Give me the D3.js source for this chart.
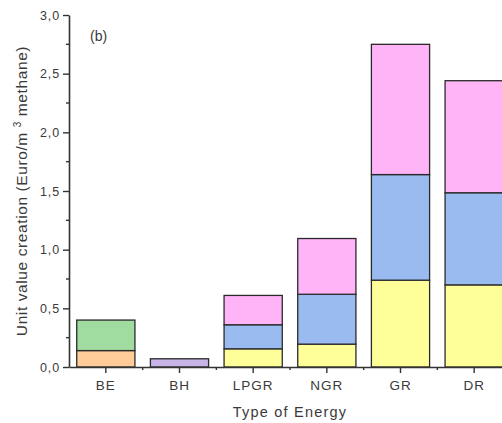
<!DOCTYPE html>
<html>
<head>
<meta charset="utf-8">
<script src="https://cdn.jsdelivr.net/npm/d3@7"></script>
<style>
  body { margin: 0; background: #fff; }
  text { font-family: "Liberation Sans", Arial, sans-serif; fill: #3a3a3a; }
</style>
</head>
<body>
<div class="chart"></div>
<script>
  // data
  const categories = ["BE", "BH", "LPGR", "NGR", "GR", "DR"];
  const keys = ["orange", "green", "purple", "yellow", "blue", "pink"];
  const orange = [0.14, 0, 0, 0, 0, 0];
  const green  = [0.26, 0, 0, 0, 0, 0];
  const purple = [0, 0.07, 0, 0, 0, 0];
  const yellow = [0, 0, 0.155, 0.195, 0.74, 0.70];
  const blue   = [0, 0, 0.205, 0.425, 0.90, 0.785];
  const pink   = [0, 0, 0.25, 0.475, 1.11, 0.955];
  const yTicks = [0, 0.5, 1.0, 1.5, 2.0, 2.5, 3.0];

  const colors = {
    orange: "#ffcc99", green: "#a0dca0", purple: "#c8b4e6",
    yellow: "#ffff99", blue: "#99bbf0", pink: "#ffb4f8"
  };

  const series = {orange, green, purple, yellow, blue, pink};
  const data = categories.map((c, i) => {
    const row = {cat: c};
    keys.forEach(k => row[k] = series[k][i]);
    return row;
  });

  const margin = {top: 15, right: 0, bottom: 56, left: 69},
    width = 442,
    height = 423 - margin.top - margin.bottom;

  const svg = d3.select(".chart").append("svg")
      .attr("width", 502)
      .attr("height", 423)
    .append("g")
      .attr("transform", "translate(" + margin.left + "," + margin.top + ")");

  const x = d3.scaleBand()
    .domain(categories)
    .range([0, width])
    .paddingInner(0.21)
    .paddingOuter(0.105);

  const y = d3.scaleLinear()
    .domain([0, 3])
    .range([height, 0]);

  const stacked = d3.stack().keys(keys)(data);

  // bars
  stacked.forEach(s => {
    svg.append("g")
      .selectAll("rect")
      .data(s.filter(d => d[1] - d[0] > 0))
      .join("rect")
        .attr("x", d => x(d.data.cat))
        .attr("y", d => y(d[1]))
        .attr("width", x.bandwidth())
        .attr("height", d => y(d[0]) - y(d[1]))
        .attr("fill", colors[s.key])
        .attr("stroke", "#2a2a2a")
        .attr("stroke-width", 1.3);
  });

  // y axis
  const yAxis = d3.axisLeft(y)
    .tickValues(yTicks)
    .tickFormat(d => d3.format(".1f")(d).replace(".", ","))
    .tickSizeInner(6)
    .tickSizeOuter(0)
    .tickPadding(3);

  const gy = svg.append("g").call(yAxis);
  gy.select(".domain").attr("stroke", "#333").attr("stroke-width", 1.6);
  gy.selectAll(".tick line").attr("stroke", "#333").attr("stroke-width", 1.4);
  gy.selectAll(".tick text")
    .attr("font-size", 12.5)
    .attr("letter-spacing", 0.9)
    .attr("fill", "#4a4a4a");

  // minor y ticks
  svg.append("g")
    .selectAll("line")
    .data(d3.range(0.25, 3, 0.5))
    .join("line")
      .attr("x1", -3).attr("x2", 0)
      .attr("y1", d => y(d)).attr("y2", d => y(d))
      .attr("stroke", "#333").attr("stroke-width", 1.4);

  // x axis
  const xAxis = d3.axisBottom(x)
    .tickSizeInner(6)
    .tickSizeOuter(0)
    .tickPadding(7);

  const gx = svg.append("g")
    .attr("transform", "translate(0," + height + ")")
    .call(xAxis);
  gx.select(".domain").attr("stroke", "#333").attr("stroke-width", 1.6);
  gx.selectAll(".tick line").attr("stroke", "#333").attr("stroke-width", 1.4);
  gx.selectAll(".tick text")
    .attr("font-size", 13.5)
    .attr("letter-spacing", 1)
    .attr("fill", "#4a4a4a");

  // minor x ticks between categories
  svg.append("g")
    .selectAll("line")
    .data(categories.slice(1))
    .join("line")
      .attr("x1", d => x(d) - x.step() * x.paddingInner() / 2)
      .attr("x2", d => x(d) - x.step() * x.paddingInner() / 2)
      .attr("y1", height).attr("y2", height + 3)
      .attr("stroke", "#333").attr("stroke-width", 1.4);

  // axis titles
  svg.append("text")
    .attr("x", 290 - margin.left)
    .attr("y", height + 50)
    .attr("text-anchor", "middle")
    .attr("font-size", 14.5)
    .attr("letter-spacing", 1.2)
    .attr("fill", "#444")
    .text("Type of Energy");

  const yt = svg.append("text")
    .attr("transform", "translate(" + (27 - margin.left) + "," + (191 - margin.top) + ") rotate(-90)")
    .attr("text-anchor", "middle")
    .attr("font-size", 15.5)
    .attr("letter-spacing", 0.6)
    .attr("fill", "#444");
  yt.append("tspan").text("Unit value creation (Euro/m ");
  yt.append("tspan").attr("font-size", 10).attr("dy", -6).text("3");
  yt.append("tspan").attr("dy", 6).text(" methane)");

  svg.append("text")
    .attr("x", 90 - margin.left)
    .attr("y", 41 - margin.top)
    .attr("font-size", 14)
    .attr("fill", "#444")
    .text("(b)");
</script>
</body>
</html>
